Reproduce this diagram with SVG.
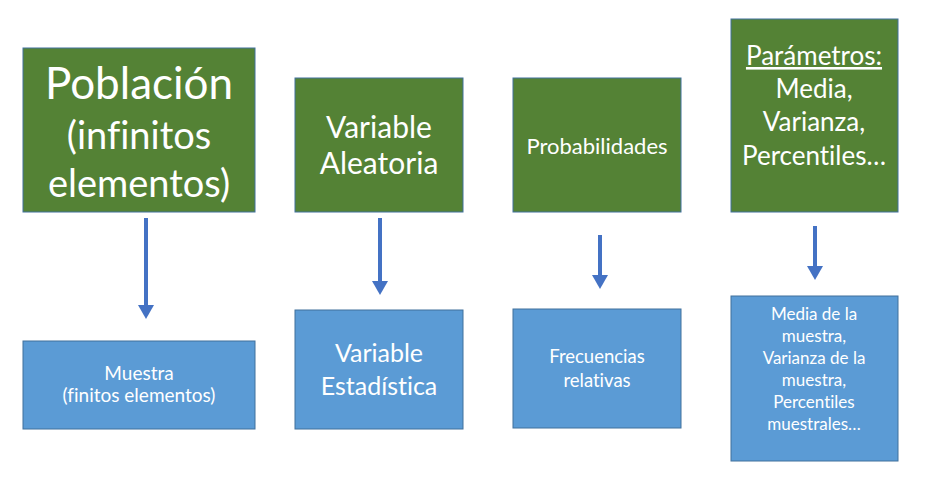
<svg xmlns="http://www.w3.org/2000/svg" width="935" height="477" viewBox="0 0 935 477">
<style>
.g{fill:#548235;stroke:#41719C;stroke-width:1}
.b{fill:#5B9BD5;stroke:#41719C;stroke-width:1}
text{font-family:Lato,"Open Sans","Liberation Sans",sans-serif;fill:#FFFFFF;text-anchor:middle;font-variant-ligatures:none;font-feature-settings:"liga" 0,"dlig" 0}
.c{stroke:#4472C4;stroke-width:4;fill:none}
</style>
<defs>
<marker id="ah" markerWidth="4" markerHeight="4" refX="1" refY="2" orient="auto" markerUnits="strokeWidth">
<path d="M0,0 L3.5,2 L0,4 z" fill="#4472C4"/>
</marker>
</defs>
<rect width="935" height="477" fill="#FFFFFF"/>
<g id="poblacion">
<rect class="g" x="23" y="48" width="232" height="164"/>
<text x="139" y="99" font-size="44">Población</text>
<text x="139" y="149" font-size="38">(infinitos</text>
<text x="139" y="197" font-size="38">elementos)</text>
</g>
<g id="variable-aleatoria">
<rect class="g" x="295" y="78" width="168" height="134"/>
<text x="379" y="138" font-size="30">Variable</text>
<text x="379" y="174" font-size="30">Aleatoria</text>
</g>
<g id="probabilidades">
<rect class="g" x="513" y="78" width="168" height="134"/>
<text x="597" y="154" font-size="22">Probabilidades</text>
</g>
<g id="parametros">
<rect class="g" x="731" y="19" width="167" height="193"/>
<text x="814" y="65" font-size="26" text-decoration="underline">Parámetros:</text>
<text x="814" y="98" font-size="26">Media,</text>
<text x="814" y="131" font-size="26">Varianza,</text>
<text x="814" y="165" font-size="26">Percentiles…</text>
</g>
<g id="muestra">
<rect class="b" x="23" y="341" width="232" height="88"/>
<text x="139" y="380" font-size="19">Muestra</text>
<text x="139" y="402" font-size="19">(finitos elementos)</text>
</g>
<g id="variable-estadistica">
<rect class="b" x="295" y="310" width="168" height="119"/>
<text x="379" y="362" font-size="25">Variable</text>
<text x="379" y="395" font-size="25">Estadística</text>
</g>
<g id="frecuencias">
<rect class="b" x="513" y="309" width="168" height="119"/>
<text x="597" y="363" font-size="18.5">Frecuencias</text>
<text x="597" y="387" font-size="18.5">relativas</text>
</g>
<g id="estadisticos">
<rect class="b" x="731" y="296" width="167" height="165"/>
<text x="814" y="320" font-size="17">Media de la</text>
<text x="814" y="342" font-size="17">muestra,</text>
<text x="814" y="364" font-size="17">Varianza de la</text>
<text x="814" y="386" font-size="17">muestra,</text>
<text x="814" y="408" font-size="17">Percentiles</text>
<text x="814" y="430" font-size="17">muestrales…</text>
</g>
<g id="connectors">
<line class="c" x1="146" y1="218" x2="146" y2="309" marker-end="url(#ah)"/>
<line class="c" x1="380" y1="218" x2="380" y2="285" marker-end="url(#ah)"/>
<line class="c" x1="600" y1="235" x2="600" y2="279" marker-end="url(#ah)"/>
<line class="c" x1="815" y1="226" x2="815" y2="270" marker-end="url(#ah)"/>
</g>
</svg>
